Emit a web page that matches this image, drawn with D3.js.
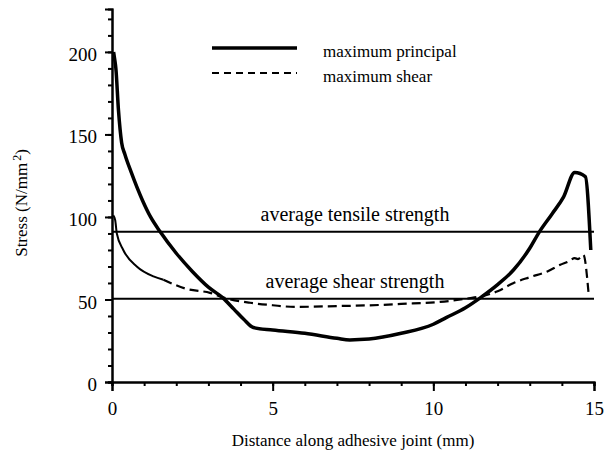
<!DOCTYPE html>
<html lang="en">
	<head>
		<meta charset="utf-8">
		<title>Stress along adhesive joint</title>
		<script src="https://cdn.jsdelivr.net/npm/d3@7"></script>
		<style type="text/css">
			body { margin: 0; background: #fff; }
		</style>
	</head>
	<body>
		<script type="text/javascript">

			//Width and height
			var w = 610;
			var h = 455;
			var serif = "Liberation Serif";

			//Maximum principal stress (thick solid)
			var principalX = [0.05, 0.08, 0.12, 0.2, 0.3, 0.4, 0.6, 0.95, 1.2, 1.5, 2.0, 2.5, 3.0, 3.45, 3.8, 4.1, 4.4, 5.0, 6.0, 7.0, 7.4, 8.0, 9.0, 10.0, 10.4, 11.0, 11.46, 12.0, 12.5, 13.0, 13.3, 13.7, 14.05, 14.4, 14.73, 14.9];
			var principalY = [200, 196, 190, 165, 145, 138, 127, 110, 100, 91, 78, 67, 57.5, 51, 44, 38, 33, 31.5, 29.5, 26.5, 25.5, 26, 29.5, 35, 39, 45, 51, 59, 68, 81, 91, 102, 112, 127, 124.5, 80];

			//Maximum shear stress (thin, dashed after the first part)
			var shearX = [0.04, 0.1, 0.15, 0.35, 0.77, 1.29, 1.6, 2.3, 3.05, 3.5, 4.3, 5.0, 5.7, 7.0, 8.35, 9.0, 10.2, 11.2, 11.5, 12.0, 12.5, 13.0, 13.55, 13.95, 14.2, 14.4, 14.5, 14.67, 14.83];
			var shearY = [101, 98, 90, 80, 70, 64, 62, 56.5, 54, 51, 48, 46.5, 45.5, 46, 46.7, 47.3, 48.5, 51, 52, 55, 60, 63.5, 67, 71, 73, 75, 74.5, 77, 54];
			var shearSolidUntil = 1.6;

			//Reference strengths
			var strengthNames = ["average tensile strength", "average shear strength"];
			var strengthValues = [91, 50.5];

			//Ticks
			var xMajorTicks = [0, 5, 10, 15];
			var xMinorTicks = d3.range(0, 16, 1);
			var yMajorTicks = [0, 50, 100, 150, 200];
			var yMinorTicks = d3.range(0, 230, 10);

			var legendNames = ["maximum principal", "maximum shear"];

			var svg = d3.select("body")
						.append("svg")
						.attr("width", w)
						.attr("height", h);

			var x = d3.scaleLinear().domain([0, 15]).range([112, 594]);
			var y = d3.scaleLinear().domain([0, 226]).range([382, 9]);

			//Axes
			svg.append("g")
			   .attr("transform", "translate(0," + y(0) + ")")
			   .call(d3.axisBottom(x).tickValues(xMinorTicks).tickSize(4).tickFormat(""));
			svg.append("g")
			   .attr("transform", "translate(0," + y(0) + ")")
			   .call(d3.axisBottom(x).tickValues(xMajorTicks).tickSize(9).tickPadding(11).tickFormat(d3.format("d")));
			svg.append("g")
			   .attr("transform", "translate(" + x(0) + ",0)")
			   .call(d3.axisLeft(y).tickValues(yMinorTicks).tickSize(4).tickFormat(""));
			var yMajor = svg.append("g")
			   .attr("transform", "translate(" + x(0) + ",0)")
			   .call(d3.axisLeft(y).tickValues(yMajorTicks).tickSize(7).tickPadding(8).tickFormat(d3.format("d")));

			svg.selectAll(".domain").attr("stroke", "#000").attr("stroke-width", 2);
			svg.selectAll(".tick line").attr("stroke", "#000").attr("stroke-width", 2);
			svg.selectAll(".tick text")
			   .style("font-family", serif)
			   .style("font-size", "19px")
			   .attr("fill", "#000");
			yMajor.selectAll(".tick text").attr("dy", "0.45em");

			//Strength lines
			svg.selectAll("line.strength")
			   .data(strengthValues)
			   .enter()
			   .append("line")
			   .attr("class", "strength")
			   .attr("x1", x(0))
			   .attr("x2", x(15))
			   .attr("y1", function(d) { return y(d); })
			   .attr("y2", function(d) { return y(d); })
			   .attr("stroke", "#000")
			   .attr("stroke-width", 2);

			svg.selectAll("text.strength")
			   .data(strengthNames)
			   .enter()
			   .append("text")
			   .attr("class", "strength")
			   .attr("x", 355)
			   .attr("y", function(d, i) { return y(strengthValues[i]) - 11; })
			   .attr("text-anchor", "middle")
			   .style("font-family", serif)
			   .style("font-size", "20px")
			   .text(function(d) { return d; });

			//Curves
			var line = d3.line()
			   .x(function(d) { return x(d[0]); })
			   .y(function(d) { return y(d[1]); })
			   .curve(d3.curveMonotoneX);

			var principal = d3.zip(principalX, principalY);
			var shear = d3.zip(shearX, shearY);

			svg.append("path")
			   .datum(principal)
			   .attr("d", line)
			   .attr("fill", "none")
			   .attr("stroke", "#000")
			   .attr("stroke-width", 3.5)
			   .attr("stroke-linejoin", "round");

			svg.append("path")
			   .datum(shear.filter(function(d) { return d[0] <= shearSolidUntil; }))
			   .attr("d", line)
			   .attr("fill", "none")
			   .attr("stroke", "#000")
			   .attr("stroke-width", 2);

			svg.append("path")
			   .datum(shear.filter(function(d) { return d[0] >= shearSolidUntil; }))
			   .attr("d", line)
			   .attr("fill", "none")
			   .attr("stroke", "#000")
			   .attr("stroke-width", 2.2)
			   .attr("stroke-dasharray", "9,5");

			//Legend
			var legend = svg.selectAll("g.legend")
			   .data(legendNames)
			   .enter()
			   .append("g")
			   .attr("class", "legend")
			   .attr("transform", function(d, i) { return "translate(212," + (48 + i * 25) + ")"; });

			legend.append("line")
			   .attr("x1", 0)
			   .attr("x2", 85)
			   .attr("stroke", "#000")
			   .attr("stroke-width", function(d, i) { return i === 0 ? 3.5 : 2; })
			   .attr("stroke-dasharray", function(d, i) { return i === 0 ? null : "7,5"; });

			legend.append("text")
			   .attr("x", 111)
			   .attr("y", 9)
			   .style("font-family", serif)
			   .style("font-size", "17px")
			   .text(function(d) { return d; });

			//Axis titles
			svg.append("text")
			   .attr("x", 353)
			   .attr("y", 446)
			   .attr("text-anchor", "middle")
			   .style("font-family", serif)
			   .style("font-size", "17px")
			   .text("Distance along adhesive joint (mm)");

			var yTitle = svg.append("text")
			   .attr("transform", "translate(27,203) rotate(-90)")
			   .attr("text-anchor", "middle")
			   .style("font-family", serif)
			   .style("font-size", "17px");
			yTitle.append("tspan").text("Stress (N/mm");
			yTitle.append("tspan").style("font-size", "12px").attr("dy", "-6").attr("dx", "2").text("2");
			yTitle.append("tspan").attr("dy", "6").text(")");

		</script>
	</body>
</html>
